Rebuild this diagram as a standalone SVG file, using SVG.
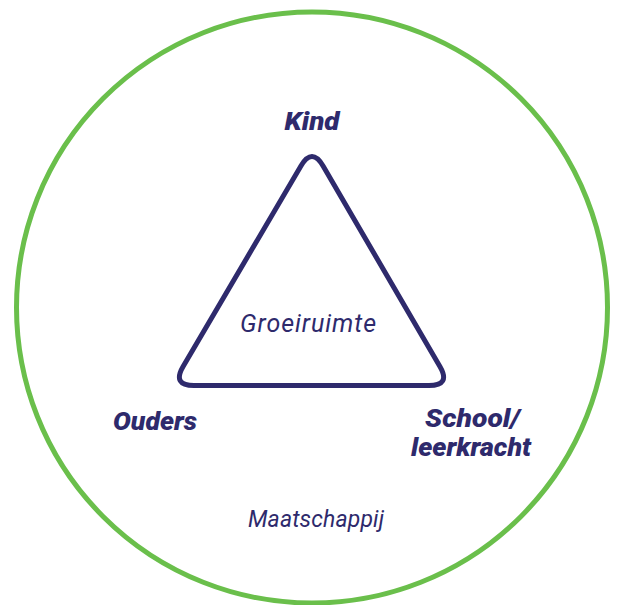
<svg xmlns="http://www.w3.org/2000/svg" width="617" height="605" viewBox="0 0 617 605">
<style>
.lbl{font-family:Roboto,"Liberation Sans",sans-serif;font-style:italic;fill:#2e2a6c}
.b{font-weight:900;font-size:25px}
.r{font-weight:400}
</style>
<rect width="617" height="605" fill="#ffffff"/>
<g id="maatschappij">
<circle cx="312" cy="307.5" r="295.5" fill="none" stroke="#6abf4b" stroke-width="5"/>
<text class="lbl r" x="316" y="527" font-size="23" text-anchor="middle" textLength="136" lengthAdjust="spacing">Maatschappij</text>
</g>
<g id="groeiruimte">
<path d="M300.9,166 Q312,147 323.1,166 L439.9,366.5 Q451,385.5 429,385.5 L194,385.5 Q172,385.5 183.1,366.5 Z" fill="none" stroke="#2e2a6c" stroke-width="5" stroke-linejoin="round"/>
<text class="lbl r" x="308" y="332" font-size="25" text-anchor="middle" textLength="136" lengthAdjust="spacing">Groeiruimte</text>
</g>
<g id="kind"><text class="lbl b" x="312" y="130" text-anchor="middle" textLength="55" lengthAdjust="spacingAndGlyphs">Kind</text></g>
<g id="ouders"><text class="lbl b" x="155" y="430" text-anchor="middle" textLength="84" lengthAdjust="spacingAndGlyphs">Ouders</text></g>
<g id="school"><text class="lbl b" x="472.5" y="427" text-anchor="middle" textLength="95" lengthAdjust="spacingAndGlyphs">School/</text><text class="lbl b" x="471" y="456" text-anchor="middle" textLength="120" lengthAdjust="spacingAndGlyphs">leerkracht</text></g>
<g id="connectors"></g>
</svg>
